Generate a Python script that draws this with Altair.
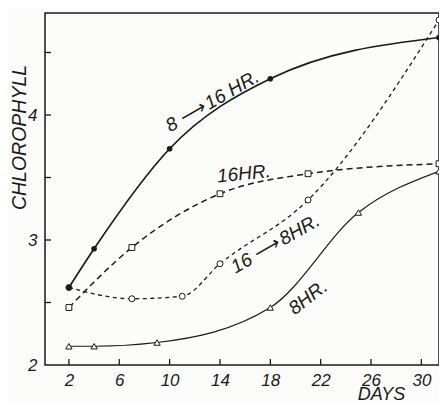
import altair as alt
import pandas as pd

# Series (days, chlorophyll); last readings sit on the right frame
days_a = [2, 4, 10, 18, 31.4]          # 8 -> 16 HR. (solid, filled circles)
chl_a = [2.62, 2.93, 3.73, 4.29, 4.62]
days_b = [2, 7, 14, 21, 31.4]          # 16 HR. (dashed, open squares)
chl_b = [2.46, 2.94, 3.37, 3.53, 3.61]
days_c = [2, 7, 11, 14, 21, 31.4]      # 16 -> 8 HR. (short dashes, open circles)
chl_c = [2.62, 2.53, 2.55, 2.81, 3.32, 4.76]
days_d = [2, 4, 9, 18, 25, 31.4]       # 8 HR. (solid, open triangles)
chl_d = [2.15, 2.15, 2.18, 2.46, 3.22, 3.55]

x_tick_vals = [2, 6, 10, 14, 18, 22, 26, 30]
y_label_vals = [2, 3, 4]
y_tick_vals = [2.5, 3, 3.5, 4, 4.5]

label_texts = ["8\u2009\u27f6\u200916 HR.", "16HR.", "16\u2009\u27f6\u20098HR.", "8HR."]
label_days = [13.4, 15.9, 18.4, 21.0]
label_vals = [4.11, 3.53, 2.97, 2.54]
label_angles = [330, 354, 330, 322]

INK = "#1a1a1a"
FONT = "Liberation Sans"
W, H = 394, 352

xs = alt.Scale(domain=[0.1, 31.4], nice=False, zero=False)
ys = alt.Scale(domain=[2, 4.816], nice=False, zero=False)

x_axis = alt.Axis(values=x_tick_vals, ticks=False, domain=False, grid=False,
                  labelPadding=7, labelFont=FONT, labelFontSize=17,
                  labelFontStyle="italic", labelColor=INK, labelFlush=False,
                  title="DAYS", titleX=336, titleY=34, titleAngle=0,
                  titleAlign="center", titleBaseline="alphabetic",
                  titleFont=FONT, titleFontSize=18, titleFontStyle="italic",
                  titleFontWeight="normal", titleColor=INK)
y_axis = alt.Axis(values=y_label_vals, format="d", ticks=False, domain=False,
                  grid=False, labelPadding=8, labelFont=FONT, labelFontSize=17,
                  labelFontStyle="italic", labelColor=INK, labelFlush=False,
                  labelBaseline="middle",
                  title="CHLOROPHYLL", titleX=-26, titleY=124, titleAngle=270,
                  titleAlign="center", titleBaseline="middle",
                  titleFont=FONT, titleFontSize=19.5, titleFontStyle="italic",
                  titleFontWeight="normal", titleColor=INK)


def X():
    return alt.X("day:Q", scale=xs, axis=x_axis)


def Y():
    return alt.Y("chl:Q", scale=ys, axis=y_axis)


def df(d, c):
    return pd.DataFrame({"day": d, "chl": c})


a, b, c, d = df(days_a, chl_a), df(days_b, chl_b), df(days_c, chl_c), df(days_d, chl_d)

line_a = alt.Chart(a).mark_line(interpolate="monotone", color=INK, strokeWidth=1.7).encode(x=X(), y=Y())
line_b = alt.Chart(b).mark_line(interpolate="monotone", color=INK, strokeWidth=1.5,
                                strokeDash=[6, 4]).encode(x=X(), y=Y())
line_c = alt.Chart(c).mark_line(interpolate="monotone", color=INK, strokeWidth=1.3,
                                strokeDash=[4, 3.5]).encode(x=X(), y=Y())
line_d = alt.Chart(d).mark_line(interpolate="monotone", color=INK, strokeWidth=1.2).encode(x=X(), y=Y())

pt_b = alt.Chart(b).mark_point(shape="square", filled=False, fill="white", fillOpacity=1,
                               stroke=INK, strokeWidth=1, size=34).encode(x=X(), y=Y())
pt_c = alt.Chart(c).mark_point(shape="circle", filled=False, fill="white", fillOpacity=1,
                               stroke=INK, strokeWidth=1, size=36).encode(x=X(), y=Y())
pt_d = alt.Chart(d).mark_point(shape="triangle-up", filled=False, fill="white", fillOpacity=1,
                               stroke=INK, strokeWidth=1, size=40).encode(x=X(), y=Y())
pt_a = alt.Chart(a).mark_point(shape="circle", filled=True, color=INK, opacity=1,
                               size=32).encode(x=X(), y=Y())

ytick = alt.Chart(pd.DataFrame({"chl": y_tick_vals})).mark_rule(color=INK, strokeWidth=1.3).encode(
    y=Y(), x=alt.value(0), x2=alt.value(6))
xtick = alt.Chart(pd.DataFrame({"day": x_tick_vals})).mark_rule(color=INK, strokeWidth=1.3).encode(
    x=X(), y=alt.value(H), y2=alt.value(H - 6))

labels = alt.Chart(pd.DataFrame({"day": label_days, "chl": label_vals,
                                 "txt": label_texts, "ang": label_angles})).mark_text(
    font=FONT, fontSize=19, fontStyle="italic", color=INK, align="center", baseline="middle"
).encode(x=X(), y=Y(), text="txt:N", angle=alt.Angle("ang:Q", scale=None))

chart = alt.layer(line_a, line_b, line_c, line_d, pt_b, pt_c, pt_d, pt_a, ytick, xtick, labels).properties(
    width=W, height=H, background="#fcfcfa",
    autosize=alt.AutoSizeParams(type="none"),
    padding={"left": 37, "top": 5, "right": 0, "bottom": 38},
).configure_view(stroke=INK, strokeWidth=1.5)

chart.save("out.html", embed_options={"renderer": "svg", "actions": False})
